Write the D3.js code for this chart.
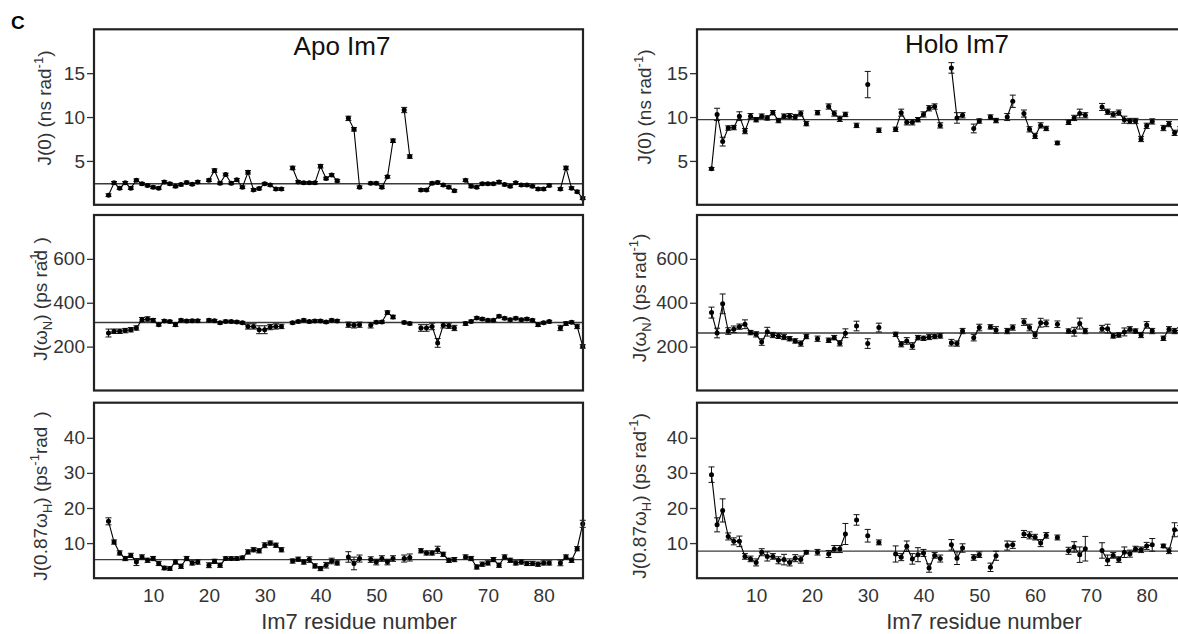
<!DOCTYPE html>
<html>
<head>
<meta charset="utf-8">
<script src="https://cdn.jsdelivr.net/npm/d3@7"></script>
<style>
  body { margin: 0; background: #fff; }
  svg { font-family: "Liberation Sans", Arial, sans-serif; }
</style>
</head>
<body>
<svg id="chart" width="1178" height="634"></svg>
<script>
// residue numbers 1..87 (index 0 = residue 1), null = not assigned
var residues = d3.range(1, 88);

var apoJ0 = [null,1.1,2.5,1.9,2.5,1.9,2.8,2.4,2.2,2.0,
  1.9,2.6,2.4,2.1,2.3,2.55,2.35,2.6,null,2.8,
  3.9,2.45,3.45,2.45,2.85,2.0,3.7,1.7,1.85,2.4,
  2.25,1.8,1.8,null,4.2,2.6,2.5,2.5,2.5,4.4,
  3.0,3.4,2.75,null,9.85,8.6,2.0,null,2.45,2.45,
  2.0,3.2,7.3,null,10.8,5.5,null,1.7,1.7,2.45,
  2.55,2.25,2.0,1.6,null,2.8,2.1,2.0,2.4,2.4,
  2.4,2.6,2.3,2.1,2.5,2.25,2.25,2.1,1.8,1.8,
  2.2,null,1.8,4.2,1.9,1.5,0.75];
var apoJ0Err = [null,0.15,0.15,0.15,0.15,0.15,0.15,0.15,0.15,0.15,
  0.15,0.15,0.15,0.15,0.15,0.15,0.15,0.15,null,0.15,
  0.2,0.15,0.15,0.15,0.15,0.15,0.2,0.15,0.15,0.15,
  0.15,0.15,0.15,null,0.2,0.15,0.15,0.15,0.15,0.2,
  0.15,0.15,0.15,null,0.25,0.2,0.15,null,0.15,0.15,
  0.15,0.15,0.2,null,0.3,0.2,null,0.15,0.15,0.15,
  0.15,0.15,0.15,0.15,null,0.15,0.15,0.15,0.15,0.15,
  0.15,0.15,0.15,0.15,0.15,0.15,0.15,0.15,0.15,0.15,
  0.15,null,0.15,0.2,0.15,0.15,0.15];

var apoJN = [null,262,270,270,273,277,285,323,326,320,
  300,317,314,300,320,317,318,318,null,320,
  318,309,315,314,312,309,292,292,277,277,
  289,292,292,null,309,314,320,314,317,317,
  312,320,317,null,300,297,300,null,297,311,
  312,355,335,null,310,305,null,285,285,292,
  217,297,295,285,null,305,315,330,326,320,
  320,338,329,323,329,323,326,320,300,309,
  314,null,285,305,311,292,201];
var apoJNErr = [null,18,10,10,10,10,10,10,10,8,
  6,6,6,8,6,6,6,6,null,6,
  6,6,6,6,6,6,12,12,18,18,
  12,12,10,null,6,6,6,6,6,6,
  6,6,6,null,12,12,12,null,12,6,
  6,8,8,null,6,6,null,15,15,15,
  20,12,12,12,null,8,6,6,6,6,
  6,6,6,6,6,6,6,6,8,6,
  6,null,12,8,6,10,8];

var apoJH = [null,16.2,10.3,7.2,5.6,6.5,4.6,6.05,5.1,5.6,
  4.2,2.9,2.75,4.6,3.4,5.6,4.35,4.6,null,3.7,
  4.8,3.7,5.6,5.6,5.6,5.8,7.5,8.1,7.8,9.4,
  10.0,9.4,8.1,null,4.9,5.4,4.6,5.3,3.5,2.75,
  3.7,4.9,4.35,null,6.05,4.2,5.6,null,5.3,4.6,
  5.6,4.6,5.6,null,5.6,5.9,null,7.8,7.2,7.2,
  8.1,6.8,5.1,5.3,null,6.05,5.6,3.2,4.0,4.35,
  5.3,3.7,6.05,5.1,4.35,4.6,4.2,4.2,4.0,4.35,
  4.35,null,4.35,6.05,5.1,8.4,15.5];
var apoJHErr = [null,1.0,0.6,0.6,0.6,0.6,1.0,0.6,0.6,0.6,
  0.6,0.5,0.5,0.6,0.6,0.6,0.6,0.6,null,0.7,
  0.6,0.6,0.5,0.5,0.5,0.5,0.6,0.6,0.6,0.7,
  0.6,0.6,0.6,null,0.6,0.6,0.6,0.8,0.6,0.6,
  0.8,0.8,0.6,null,1.5,1.8,1.0,null,0.8,0.8,
  0.8,0.8,0.8,null,1.0,1.0,null,0.6,0.6,0.6,
  1.0,0.6,0.6,0.6,null,0.6,0.6,0.6,0.6,0.6,
  0.6,0.6,0.6,0.6,0.6,0.6,0.6,0.6,0.6,0.6,
  0.6,null,0.8,0.6,0.6,0.6,1.0];

var holoJ0 = [null,4.1,10.3,7.2,8.75,8.8,10.1,8.4,10.1,9.7,
  10.1,9.9,10.5,9.6,10.1,10.1,10.0,10.4,9.25,null,
  10.5,null,11.2,10.4,9.8,10.3,null,9.05,null,13.7,
  null,8.5,null,null,8.6,10.5,9.4,9.4,9.7,10.3,
  11.0,11.2,9.05,null,15.6,9.9,10.2,null,8.7,9.55,
  null,10.0,9.6,null,10.0,11.8,null,10.4,8.6,7.85,
  9.05,8.7,null,7.05,null,9.4,9.9,10.4,10.2,null,
  null,11.15,10.6,10.3,10.5,9.7,9.55,9.55,7.5,9.0,
  9.5,null,8.75,9.2,8.2,8.6,8.0];
var holoJ0Err = [null,0.15,0.7,0.5,0.25,0.25,0.5,0.3,0.3,0.25,
  0.25,0.25,0.25,0.25,0.25,0.3,0.3,0.3,0.25,null,
  0.25,null,0.3,0.3,0.3,0.25,null,0.25,null,1.5,
  null,0.25,null,null,0.25,0.4,0.3,0.3,0.25,0.3,
  0.3,0.3,0.3,null,0.6,0.6,0.3,null,0.5,0.25,
  null,0.25,0.25,null,0.4,0.7,null,0.4,0.3,0.3,
  0.3,0.25,null,0.2,null,0.25,0.3,0.5,0.3,null,
  null,0.4,0.3,0.3,0.3,0.4,0.3,0.3,0.3,0.3,
  0.3,null,0.3,0.3,0.3,0.3,0.3];

var holoJN = [null,355,262,395,271,279,291,302,264,256,
  221,268,253,249,244,236,226,214,246,null,
  236,null,229,241,215,261,null,294,null,214,
  null,287,null,null,256,211,226,203,241,238,
  244,246,249,null,218,214,271,null,241,287,
  null,290,276,null,271,287,null,312,287,253,
  309,306,null,302,null,271,268,305,271,null,
  null,282,282,249,253,267,279,271,253,299,
  271,null,238,279,271,275,270];
var holoJNErr = [null,25,22,45,15,15,12,20,10,12,
  15,20,12,12,12,10,10,12,10,null,
  12,null,10,10,12,20,null,22,null,22,
  null,20,null,null,10,12,15,15,10,10,
  12,10,10,null,15,12,12,null,15,15,
  null,10,15,null,12,12,null,15,15,15,
  20,15,null,15,null,10,20,25,12,null,
  null,15,20,10,10,18,12,10,12,15,
  12,null,10,12,12,12,12];

var holoJH = [null,29.5,15.2,19.3,11.9,10.5,10.5,6.2,5.5,4.5,
  7.4,6.2,6.2,5.1,5.3,4.5,5.7,5.3,7.4,null,
  7.4,null,6.9,8.3,8.3,12.6,null,16.6,null,12.1,
  null,10.2,null,null,6.9,6.0,9.1,5.5,6.7,7.2,
  2.9,6.5,5.6,null,9.5,5.7,8.6,null,5.9,6.7,
  null,3.1,6.4,null,9.3,9.5,null,12.6,12.2,11.7,
  10.0,12.2,null,11.6,null,7.8,8.9,6.7,8.4,null,
  null,7.9,5.1,6.5,5.3,7.4,7.0,8.3,8.1,9.2,
  9.5,null,9.2,7.8,13.8,13.5,12.0];
var holoJHErr = [null,2.2,2.0,3.3,1.0,1.0,1.5,0.8,0.8,1.0,
  1.0,1.3,0.8,1.0,1.5,1.0,1.0,1.0,0.5,null,
  0.8,null,1.0,1.0,1.0,3.0,null,1.5,null,1.8,
  null,0.7,null,null,2.3,1.0,1.5,1.5,2.0,1.0,
  1.2,0.8,1.0,null,1.5,1.8,1.2,null,0.8,0.8,
  null,1.2,1.3,null,1.3,1.0,null,1.0,1.0,0.8,
  1.0,0.8,null,0.7,null,1.0,1.5,2.2,3.5,null,
  null,2.2,1.5,0.8,0.8,1.5,1.0,0.8,0.8,1.0,
  1.8,null,0.5,0.8,2.0,1.5,1.5];

// average lines
var apoMeans = [2.4, 310, 5.3];
var holoMeans = [9.7, 262, 7.7];

var yDomains = [[0, 20], [0, 800], [0, 50]];
var yTicks = [[5, 10, 15], [200, 400, 600], [10, 20, 30, 40]];
var xTicks = [10, 20, 30, 40, 50, 60, 70, 80];

/* layout */
var colX = [94, 697], rowY = [29.3, 215, 402.7];
var panelW = 489, panelH = 175.5;

var svg = d3.select("#chart");

var x = d3.scaleLinear().domain([-0.6, 87.05]).range([0, panelW]);

function drawPanel(col, row, vals, errs, mean) {
  var g = svg.append("g")
      .attr("transform", "translate(" + colX[col] + "," + rowY[row] + ")");
  var y = d3.scaleLinear().domain(yDomains[row]).range([panelH, 0]);

  var pts = residues.map(function(r, i) { return { r: r, v: vals[i], e: errs[i] }; });
  var shown = pts.filter(function(d) { return d.v != null; });

  // mean line
  g.append("line")
      .attr("x1", 0).attr("x2", panelW)
      .attr("y1", y(mean)).attr("y2", y(mean))
      .attr("stroke", "#3a3a3a").attr("stroke-width", 1.3);

  // connecting line, broken at missing residues
  var line = d3.line()
      .defined(function(d) { return d.v != null; })
      .x(function(d) { return x(d.r); })
      .y(function(d) { return y(d.v); });
  g.append("path").datum(pts)
      .attr("d", line)
      .attr("fill", "none").attr("stroke", "#000").attr("stroke-width", 1.1);

  // error bars
  var eb = g.append("g").attr("stroke", "#111").attr("stroke-width", 1);
  eb.selectAll("line.v").data(shown).enter().append("line")
      .attr("class", "v")
      .attr("x1", function(d) { return x(d.r); }).attr("x2", function(d) { return x(d.r); })
      .attr("y1", function(d) { return y(d.v - d.e); })
      .attr("y2", function(d) { return y(d.v + d.e); });
  [-1, 1].forEach(function(s) {
    eb.selectAll("line.c" + (s + 1)).data(shown).enter().append("line")
        .attr("class", "c" + (s + 1))
        .attr("x1", function(d) { return x(d.r) - 3; })
        .attr("x2", function(d) { return x(d.r) + 3; })
        .attr("y1", function(d) { return y(d.v + s * d.e); })
        .attr("y2", function(d) { return y(d.v + s * d.e); });
  });

  // markers
  g.selectAll("circle").data(shown).enter().append("circle")
      .attr("cx", function(d) { return x(d.r); })
      .attr("cy", function(d) { return y(d.v); })
      .attr("r", 2.5).attr("fill", "#000");

  // y axis
  var ya = g.append("g")
      .call(d3.axisLeft(y).tickValues(yTicks[row]).tickSize(7).tickPadding(2));
  ya.select(".domain").remove();
  ya.selectAll("line").attr("stroke", "#333").attr("stroke-width", 1.3);
  ya.selectAll("text").attr("font-size", 19).attr("fill", "#333")
      .attr("font-family", "Liberation Sans, Arial, sans-serif");

  if (row == 2) {
    var xa = g.append("g").attr("transform", "translate(0," + panelH + ")")
        .call(d3.axisBottom(x).tickValues(xTicks).tickSize(0).tickPadding(10));
    xa.select(".domain").remove();
    xa.selectAll("text").attr("font-size", 19).attr("fill", "#333")
        .attr("font-family", "Liberation Sans, Arial, sans-serif");
  }

  // frame
  g.append("rect")
      .attr("width", panelW).attr("height", panelH)
      .attr("fill", "none").attr("stroke", "#222").attr("stroke-width", 2.2);
}

var apoSets = [[apoJ0, apoJ0Err], [apoJN, apoJNErr], [apoJH, apoJHErr]];
var holoSets = [[holoJ0, holoJ0Err], [holoJN, holoJNErr], [holoJH, holoJHErr]];
for (var row = 0; row < 3; row++) {
  drawPanel(0, row, apoSets[row][0], apoSets[row][1], apoMeans[row]);
  drawPanel(1, row, holoSets[row][0], holoSets[row][1], holoMeans[row]);
}

/* y axis titles (rotated) */
function yTitle(xPos, yCenter, parts) {
  var t = svg.append("text")
      .attr("transform", "translate(" + xPos + "," + yCenter + ") rotate(-90)")
      .attr("text-anchor", "middle")
      .attr("font-size", 19).attr("fill", "#333");
  parts.forEach(function(p) {
    var ts = t.append("tspan").text(p.t);
    if (p.sup) ts.attr("font-size", 13).attr("dy", -8);
    if (p.sub) ts.attr("font-size", 13).attr("dy", 5);
    if (p.back) ts.attr("dy", p.back);
    if (p.dx) ts.attr("dx", p.dx);
  });
}

yTitle(51, 108, [{ t: "J(0) (ns rad" }, { t: "-1", sup: true }, { t: ")", back: 8 }]);
yTitle(47, 299, [{ t: "J(ω" }, { t: "N", sub: true }, { t: ") (ps rad", back: -5 },
  { t: "-1", sup: true, dx: -14 }, { t: ")", back: 8, dx: 9 }]);
yTitle(47, 496, [{ t: "J(0.87ω" }, { t: "H", sub: true }, { t: ") (ps", back: -5 },
  { t: "-1", sup: true }, { t: "rad", back: 8 }, { t: ")", dx: 9 }]);

yTitle(651, 107, [{ t: "J(0) (ns rad" }, { t: "-1", sup: true }, { t: ")", back: 8 }]);
yTitle(646, 298, [{ t: "J(ω" }, { t: "N", sub: true }, { t: ") (ps rad", back: -5 },
  { t: "-1", sup: true }, { t: ")", back: 8 }]);
yTitle(646, 496, [{ t: "J(0.87ω" }, { t: "H", sub: true }, { t: ") (ps rad", back: -5 },
  { t: "-1", sup: true }, { t: ")", back: 8 }]);

/* panel titles */
svg.append("text").attr("x", 342).attr("y", 55).attr("text-anchor", "middle")
    .attr("font-size", 26).attr("fill", "#111").text("Apo Im7");
svg.append("text").attr("x", 957).attr("y", 53).attr("text-anchor", "middle")
    .attr("font-size", 26).attr("fill", "#111").text("Holo Im7");

/* x axis titles */
svg.append("text").attr("x", 359).attr("y", 629).attr("text-anchor", "middle")
    .attr("font-size", 22).attr("fill", "#333").text("Im7 residue number");
svg.append("text").attr("x", 984).attr("y", 629).attr("text-anchor", "middle")
    .attr("font-size", 22).attr("fill", "#333").text("Im7 residue number");

/* figure letter */
svg.append("text").attr("x", 11).attr("y", 28.5)
    .attr("font-size", 19).attr("font-weight", "bold").attr("fill", "#000").text("C");
</script>
</body>
</html>
